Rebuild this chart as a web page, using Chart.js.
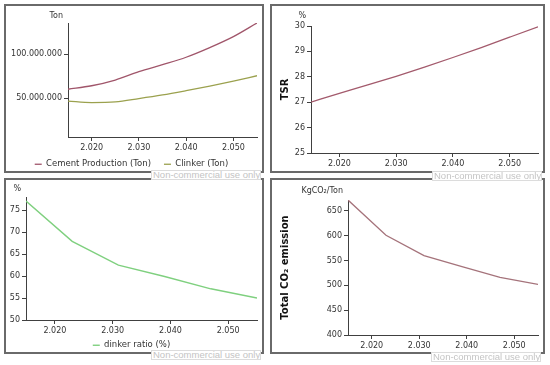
<!DOCTYPE html>
<html><head><meta charset="utf-8">
<script src="https://cdn.jsdelivr.net/npm/chart.js@4/dist/chart.umd.min.js"></script>
<style>
html,body{margin:0;padding:0;background:#fff;width:550px;height:365px;overflow:hidden;}
.panel{position:absolute;box-sizing:border-box;border:2px solid #6a6a6a;background:#fff;}
.panel canvas{position:absolute;left:0;top:0;}
.wm{position:absolute;box-sizing:border-box;font-family:"Liberation Sans",Arial,sans-serif;font-size:9.5px;color:#c4c4c4;background:#fff;border:1px solid #dcdcdc;line-height:8px;height:10px;width:110px;padding:0 1px;white-space:nowrap;overflow:hidden;z-index:5}
</style></head><body>
<div class="panel" style="left:4px;top:4px;width:260px;height:169px"><canvas id="c1" width="256" height="165"></canvas></div>
<div class="panel" style="left:270px;top:4px;width:275px;height:169px"><canvas id="c2" width="271" height="165"></canvas></div>
<div class="panel" style="left:4px;top:178px;width:260px;height:176px"><canvas id="c3" width="256" height="172"></canvas></div>
<div class="panel" style="left:270px;top:178px;width:275px;height:176px"><canvas id="c4" width="271" height="172"></canvas></div>
<div class="wm" style="left:151px;top:170px">Non-commercial use only</div>
<div class="wm" style="left:432px;top:171px">Non-commercial use only</div>
<div class="wm" style="left:151px;top:350px">Non-commercial use only</div>
<div class="wm" style="left:431px;top:352px">Non-commercial use only</div>
<script>
// ---- data ----
const xTicks = [2020, 2030, 2040, 2050];
const years5 = [2015, 2020, 2025, 2030, 2035, 2040, 2045, 2050, 2055];
const cementProduction = [60.0e6, 64.0e6, 70.5e6, 80.0e6, 88.0e6, 96.5e6, 107.5e6, 120.0e6, 135.6e6];
const clinker = [46.5e6, 44.8e6, 45.5e6, 49.3e6, 53.5e6, 58.4e6, 63.6e6, 69.3e6, 75.4e6];
const tsr = [27.0, 27.35, 27.68, 28.02, 28.38, 28.76, 29.15, 29.56, 29.97];
const years8 = [2015, 2023, 2031, 2039, 2047, 2055];
const clinkerRatio = [77.1, 67.9, 62.5, 59.9, 57.1, 55.0];
const co2 = [672, 601, 560, 538, 516, 502];
const tonTicks = [50e6, 100e6];
const tsrTicks = [25, 26, 27, 28, 29, 30];
const ratioTicks = [50, 55, 60, 65, 70, 75];
const co2Ticks = [400, 450, 500, 550, 600, 650];

const FONT = '"DejaVu Sans", Verdana, sans-serif';
const TXT = '#333';
const AX = '#404040';
const LEG_PAD = 13;
function fmt(v){ return String(Math.round(v)).replace(/\B(?=(\d{3})+(?!\d))/g, '.'); }
function pts(xs, ys){ return xs.map((x, i) => ({x: x, y: ys[i]})); }

const topLabelPlugin = {
  id: 'topLabel',
  afterDraw(chart, args, o) {
    if (!o || !o.text) return;
    const ctx = chart.ctx, a = chart.chartArea;
    ctx.save();
    ctx.font = '8px ' + FONT;
    ctx.fillStyle = TXT;
    ctx.textAlign = 'right';
    ctx.textBaseline = 'middle';
    ctx.fillText(o.text, a.left - 5, a.top - o.dy);
    ctx.restore();
  }
};

// keeps the legend's layout share small and places it at a fixed distance under the plot
const legendPlace = {
  id: 'legendPlace',
  beforeLayout(chart, args, o) {
    const lg = chart.legend;
    if (!lg || lg._patched || !o || !o.h) return;
    const f = lg.fit;
    lg.fit = function(){ f.call(this); this.height = o.h; };
    lg._patched = true;
  },
  afterLayout(chart, args, o) {
    const lg = chart.legend;
    if (!lg || !o || !o.h) return;
    const ih = lg._itemHeight || 10;
    const top = chart.chartArea.bottom + o.off - LEG_PAD - ih / 2;
    lg.top = top; lg.bottom = top + 40; lg.height = 40;
  }
};

function mk(id, o) {
  new Chart(document.getElementById(id), {
    type: 'line',
    data: { datasets: o.datasets },
    options: {
      responsive: false, animation: false,
      layout: { padding: o.pad },
      elements: { point: { radius: 0 } },
      plugins: {
        tooltip: { enabled: false },
        topLabel: { text: o.topLabel, dy: o.dy },
        legendPlace: o.legend ? { h: 10, off: o.legOff } : {},
        legend: o.legend ? {
          display: true, position: 'bottom',
          labels: { usePointStyle: true, pointStyle: 'line', pointStyleWidth: 7, padding: LEG_PAD,
                    font: { family: FONT, size: 8.5 }, color: TXT }
        } : { display: false }
      },
      scales: {
        x: {
          type: 'linear', min: 2015, max: 2055,
          afterBuildTicks: s => { s.ticks = xTicks.map(v => ({ value: v })); },
          afterFit: s => { s.height = o.xH; },
          ticks: { callback: v => fmt(v), font: { family: FONT, size: 8 }, color: TXT, padding: 2, autoSkip: false, maxRotation: 0 },
          grid: { drawOnChartArea: false, tickLength: 4, color: AX },
          border: { color: AX, width: 1 }
        },
        y: {
          min: o.yMin, max: o.yMax,
          afterBuildTicks: s => { s.ticks = o.yTicks.map(v => ({ value: v })); },
          afterFit: s => { s.width = o.yW; },
          ticks: { callback: v => fmt(v), font: { family: FONT, size: 8 }, color: TXT, padding: 2 },
          grid: { drawOnChartArea: false, tickLength: 4, color: AX },
          border: { color: AX, width: 1 },
          title: o.title ? { display: true, text: o.title, color: '#111', padding: 0,
                             font: { family: FONT, size: 10, weight: 'bold' } } : { display: false }
        }
      }
    },
    plugins: [topLabelPlugin, legendPlace]
  });
}

mk('c1', {
  datasets: [
    { label: 'Cement Production (Ton)', data: pts(years5, cementProduction), borderColor: '#a0556a', backgroundColor: '#a0556a', borderWidth: 1.3, cubicInterpolationMode: 'monotone' },
    { label: 'Clinker (Ton)', data: pts(years5, clinker), borderColor: '#9ba14e', backgroundColor: '#9ba14e', borderWidth: 1.3, cubicInterpolationMode: 'monotone' }
  ],
  yMin: 5.5e6, yMax: 135.6e6, yTicks: tonTicks, yW: 62, xH: 16,
  pad: { left: 0, top: 17, right: 5, bottom: 8 }, legend: true, legOff: 28, topLabel: 'Ton', dy: 7
});
mk('c2', {
  datasets: [
    { label: 'TSR', data: pts(years5, tsr), borderColor: '#a35a6c', backgroundColor: '#a35a6c', borderWidth: 1.3, cubicInterpolationMode: 'monotone' }
  ],
  yMin: 25, yMax: 30, yTicks: tsrTicks, yW: 32, xH: 18,
  pad: { left: 7, top: 20, right: 5, bottom: 0 }, title: 'TSR', topLabel: '%', dy: 10
});
mk('c3', {
  datasets: [
    { label: 'dinker ratio (%)', data: pts(years8, clinkerRatio), borderColor: '#7fd07f', backgroundColor: '#7fd07f', borderWidth: 1.4, tension: 0 }
  ],
  yMin: 50, yMax: 78, yTicks: ratioTicks, yW: 20, xH: 16,
  pad: { left: 0, top: 17, right: 5, bottom: 6 }, legend: true, legOff: 26, topLabel: '%', dy: 8
});
mk('c4', {
  datasets: [
    { label: 'Total CO2 emission', data: pts(years8, co2), borderColor: '#a5737b', backgroundColor: '#a5737b', borderWidth: 1.3, tension: 0 }
  ],
  yMin: 400, yMax: 672, yTicks: co2Ticks, yW: 69, xH: 17,
  pad: { left: 7, top: 20, right: 5, bottom: 0 }, title: 'Total CO\u2082 emission', topLabel: 'KgCO\u2082/Ton', dy: 9
});
</script>
</body></html>
